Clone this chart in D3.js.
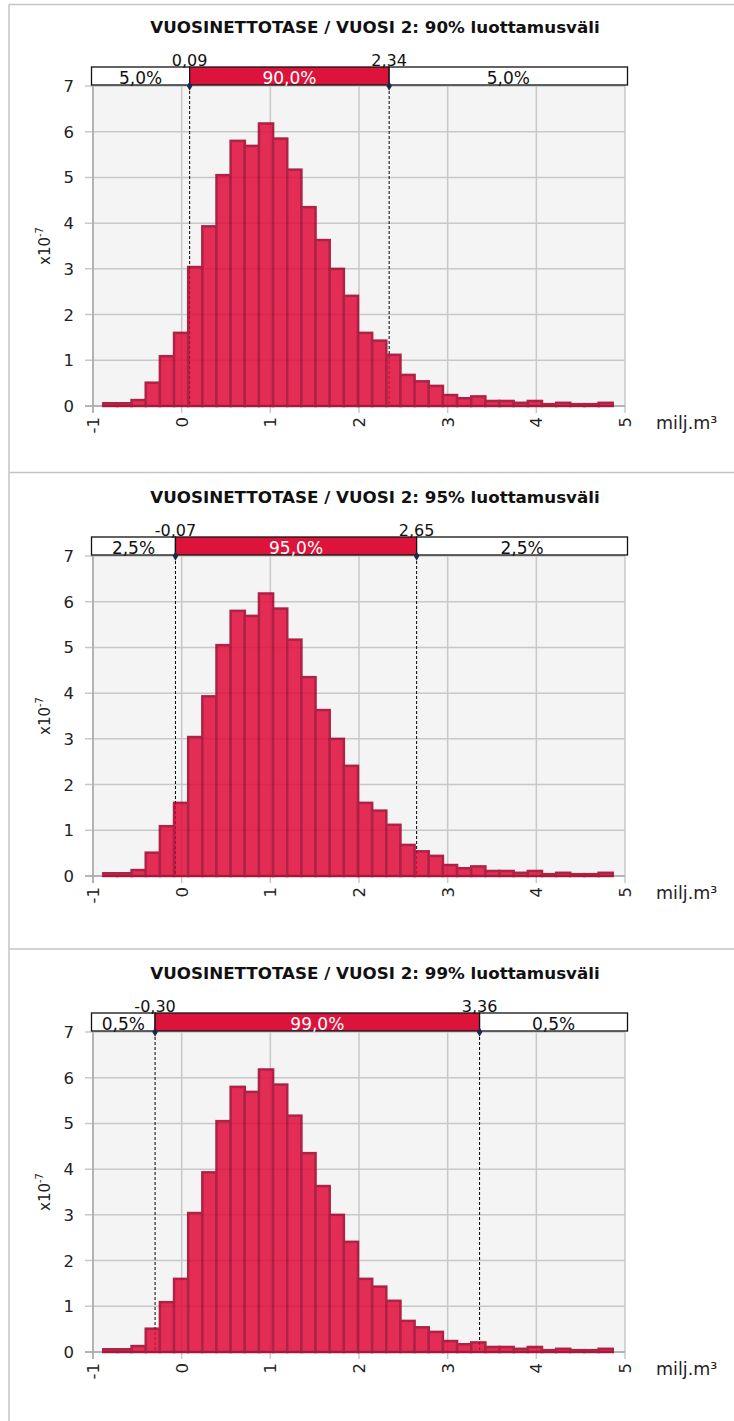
<!DOCTYPE html>
<html>
<head>
<meta charset="utf-8">
<script src="https://cdn.jsdelivr.net/npm/d3@7"></script>
<style>
body { margin: 0; background: #fff; }
svg { display: block; font-family: "DejaVu Sans", sans-serif; }
</style>
</head>
<body>
<svg id="chart" width="734" height="1421"></svg>
<script>
// histogram of the yearly net balance, density in units of 1e-7 (same sample in every panel)
var binStart = -0.884;
var binWidth = 0.1596;
var density = [0.06, 0.06, 0.13, 0.51, 1.09, 1.60, 3.04, 3.93, 5.05, 5.80, 5.69, 6.18,
               5.85, 5.17, 4.35, 3.63, 3.00, 2.41, 1.60, 1.43, 1.12, 0.68, 0.54, 0.44,
               0.24, 0.17, 0.21, 0.11, 0.11, 0.07, 0.11, 0.04, 0.07, 0.04, 0.04, 0.07];

// one entry per panel
var levels = ["90%", "95%", "99%"];
var lowerBounds = [0.09, -0.07, -0.30];
var upperBounds = [2.34, 2.65, 3.36];
var tailLabels = ["5,0%", "2,5%", "0,5%"];
var middleLabels = ["90,0%", "95,0%", "99,0%"];

var xTicks = [-1, 0, 1, 2, 3, 4, 5];
var yTicks = [0, 1, 2, 3, 4, 5, 6, 7];

var svg = d3.select('#chart');
var plotTops = [86, 556, 1032];   // top of each plot area
var sepLines = [4.5, 472.5, 949]; // panel frame lines
var plotH = 320;
var gridCol = '#c8c8c8';

var fi = d3.formatLocale({decimal: ',', thousands: ' ', grouping: [3], currency: ['', ''], minus: '-'});
var fmt = fi.format('.2f');

var x = d3.scaleLinear().domain([-1, 5]).range([93, 625]);
var y = d3.scaleLinear().domain([0, 7]).range([plotH, 0]);

// frame
svg.append('line').attr('x1', 9).attr('x2', 9).attr('y1', sepLines[0]).attr('y2', 1421)
    .attr('stroke', '#c4c4c4').attr('stroke-width', 1.5);
sepLines.forEach(function (s) {
    svg.append('line').attr('x1', 9).attr('x2', 734).attr('y1', s).attr('y2', s)
        .attr('stroke', '#c4c4c4').attr('stroke-width', 1.5);
});

levels.forEach(function (lvl, i) {
    var g = svg.append('g').attr('transform', 'translate(0,' + plotTops[i] + ')');
    var lo = lowerBounds[i], hi = upperBounds[i];

    //plot background and grid
    g.append('rect').attr('x', x(-1)).attr('y', 0).attr('width', x(5) - x(-1)).attr('height', plotH)
        .attr('fill', '#f4f4f4');
    g.selectAll('.vg').data(xTicks).enter().append('line')
        .attr('x1', function (d) { return x(d); }).attr('x2', function (d) { return x(d); })
        .attr('y1', 0).attr('y2', plotH + 7)
        .attr('stroke', gridCol).attr('stroke-width', 1.5);
    g.selectAll('.hg').data(yTicks).enter().append('line')
        .attr('x1', x(-1) - 8).attr('x2', x(5))
        .attr('y1', function (d) { return y(d); }).attr('y2', function (d) { return y(d); })
        .attr('stroke', gridCol).attr('stroke-width', 1.5);
    g.append('line').attr('x1', x(-1)).attr('x2', x(-1)).attr('y1', 0).attr('y2', plotH + 7)
        .attr('stroke', '#a8a8a8').attr('stroke-width', 1.5);
    g.append('line').attr('x1', x(-1) - 8).attr('x2', x(5)).attr('y1', plotH).attr('y2', plotH)
        .attr('stroke', '#a8a8a8').attr('stroke-width', 1.5);

    //dashed interval lines (under the bars, which are slightly transparent)
    [lo, hi].forEach(function (v) {
        g.append('line').attr('x1', x(v)).attr('x2', x(v)).attr('y1', 0).attr('y2', plotH)
            .attr('stroke', '#000').attr('stroke-width', 1).attr('stroke-dasharray', '3,2');
    });

    //bars
    g.append('g').attr('opacity', 0.86).selectAll('rect').data(density).enter().append('rect')
        .attr('x', function (d, k) { return x(binStart + k * binWidth); })
        .attr('width', x(binWidth) - x(0))
        .attr('y', function (d) { return y(d); })
        .attr('height', function (d) { return plotH - y(d); })
        .attr('fill', '#e20d3c').attr('stroke', '#a3002a').attr('stroke-width', 2.5);

    //tick labels
    g.selectAll('.yl').data(yTicks).enter().append('text')
        .attr('x', 74).attr('y', function (d) { return y(d); }).attr('dy', '0.36em')
        .attr('text-anchor', 'end').attr('font-size', 16.5).attr('fill', '#222')
        .text(function (d) { return d; });
    g.selectAll('.xl').data(xTicks).enter().append('text')
        .attr('transform', function (d) { return 'translate(' + x(d) + ',' + (plotH + 11) + ') rotate(-90)'; })
        .attr('dy', '0.36em').attr('text-anchor', 'end').attr('font-size', 16.5).attr('fill', '#222')
        .text(function (d) { return d < 0 ? '-' + (-d) : d; });
    g.append('text').attr('x', 656).attr('y', plotH + 23).attr('font-size', 17.5).attr('fill', '#222')
        .text('milj.m³');
    var yl = g.append('text').attr('transform', 'translate(50,' + (plotH / 2) + ') rotate(-90)')
        .attr('text-anchor', 'middle').attr('font-size', 15).attr('fill', '#222');
    yl.append('tspan').text('x10');
    yl.append('tspan').attr('font-size', 10).attr('dy', -7).text('-7');

    //title
    g.append('text').attr('x', 375).attr('y', -53.5).attr('text-anchor', 'middle')
        .attr('font-size', 16.7).attr('font-weight', 'bold').attr('fill', '#111')
        .text('VUOSINETTOTASE / VUOSI 2: ' + lvl + ' luottamusväli');

    //interval band
    var bx0 = x(-1) - 1.5, bx1 = x(5) + 2.5;
    var segs = [
        {a: bx0, b: x(lo), fill: '#fff', col: '#111', label: tailLabels[i]},
        {a: x(lo), b: x(hi), fill: '#dc143c', col: '#fff', label: middleLabels[i]},
        {a: x(hi), b: bx1, fill: '#fff', col: '#111', label: tailLabels[i]}
    ];
    segs.forEach(function (s) {
        g.append('rect').attr('x', s.a).attr('y', -19).attr('width', s.b - s.a).attr('height', 18)
            .attr('fill', s.fill).attr('stroke', '#111').attr('stroke-width', 1.3);
        g.append('text').attr('x', (s.a + s.b) / 2).attr('y', -2.5).attr('text-anchor', 'middle')
            .attr('font-size', 17).attr('fill', s.col).text(s.label);
    });
    [lo, hi].forEach(function (v) {
        g.append('path').attr('d', d3.symbol(d3.symbolDiamond, 26)())
            .attr('transform', 'translate(' + x(v) + ',0)').attr('fill', '#1c2a4a');
        g.append('text').attr('x', x(v)).attr('y', -20.5).attr('text-anchor', 'middle')
            .attr('font-size', 16).attr('fill', '#111').text(fmt(v));
    });
});
</script>
</body>
</html>
